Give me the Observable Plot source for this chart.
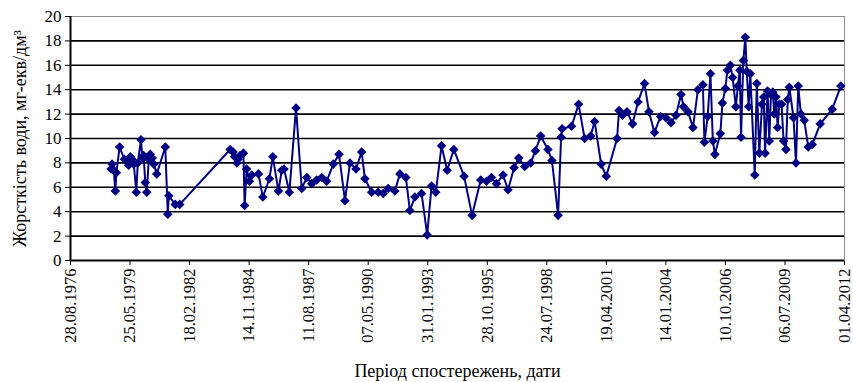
<!DOCTYPE html>
<html>
<head>
<meta charset="utf-8">
<script src="https://cdn.jsdelivr.net/npm/d3@7"></script>
<script src="https://cdn.jsdelivr.net/npm/@observablehq/plot@0.6"></script>
<style>
  html, body { margin: 0; padding: 0; background: #fff; }
  #chart [aria-label="x-axis label"], #chart [aria-label="y-axis label"] { font-size: 18px; }
  #chart [aria-label="x-axis tick label"] { font-size: 16.5px; }
</style>
</head>
<body>
<div id="chart"></div>
<script>
// Sampling dates (dd.mm.yyyy) and measured water hardness, mg-eq/dm³
const sampleDates = [
  "10.07.1978","27.07.1978","26.08.1978","20.09.1978","07.10.1978","01.12.1978",
  "18.02.1979","04.04.1979","01.05.1979","30.05.1979","27.06.1979","27.07.1979",
  "07.09.1979","02.10.1979","25.11.1979","17.12.1979",
  "08.01.1980","05.02.1980","01.03.1980","04.04.1980","29.04.1980","01.06.1980",
  "27.06.1980","16.08.1980",
  "06.01.1981","17.02.1981","06.03.1981","23.06.1981","06.09.1981",
  "01.01.1984","19.02.1984","16.03.1984","22.04.1984","13.05.1984","16.06.1984",
  "10.08.1984","31.08.1984","03.10.1984","19.11.1984","30.12.1984",
  "20.04.1985","02.07.1985","21.10.1985","17.12.1985",
  "21.03.1986","17.05.1986","24.06.1986","21.09.1986",
  "11.01.1987","17.04.1987","10.07.1987","01.10.1987","24.12.1987",
  "18.03.1988","09.06.1988","28.09.1988",
  "02.01.1989","12.04.1989","05.07.1989","14.10.1989",
  "17.01.1990","13.03.1990","04.07.1990","22.10.1990",
  "14.01.1991","08.04.1991","29.07.1991","21.10.1991",
  "30.01.1992","06.04.1992","29.06.1992","19.10.1992",
  "22.01.1993","05.04.1993","16.06.1993","20.09.1993","23.12.1993",
  "14.04.1994","04.10.1994",
  "15.02.1995","10.07.1995","14.10.1995",
  "06.01.1996","31.03.1996","19.07.1996","11.10.1996",
  "20.01.1997","09.04.1997","18.07.1997","27.10.1997",
  "14.01.1998","12.04.1998","12.08.1998","18.10.1998",
  "30.01.1999","21.03.1999","07.04.1999","13.09.1999",
  "09.01.2000","19.04.2000","29.07.2000","04.10.2000",
  "21.01.2001","18.04.2001","16.10.2001","18.11.2001",
  "16.01.2002","01.04.2002","03.07.2002","03.10.2002",
  "20.01.2003","05.04.2003","06.07.2003","15.10.2003",
  "15.01.2004","09.04.2004","02.07.2004","24.09.2004","05.11.2004",
  "19.01.2005","13.04.2005","05.07.2005","27.09.2005","22.10.2005","16.12.2005",
  "31.01.2006","13.03.2006","16.04.2006","17.07.2006","20.08.2006","09.10.2006",
  "12.11.2006",
  "01.01.2007","08.02.2007","03.04.2007","07.05.2007","09.06.2007","29.06.2007",
  "07.08.2007","09.09.2007","04.10.2007","04.11.2007","02.12.2007",
  "15.02.2008","20.03.2008","01.05.2008","15.06.2008","15.07.2008","06.08.2008",
  "17.09.2008","15.10.2008","13.11.2008","13.12.2008",
  "08.01.2009","05.02.2009","05.03.2009","02.04.2009","10.05.2009","13.06.2009",
  "23.07.2009","22.08.2009","17.09.2009","27.11.2009",
  "07.01.2010","14.02.2010","31.03.2010","26.05.2010","01.08.2010","07.10.2010",
  "18.02.2011","07.09.2011",
  "31.01.2012"
];

const hardness = [
  7.5, 7.9, 7.4, 5.7, 7.2, 9.3,
  8.3, 8.2, 7.8, 8.5, 8.3, 7.9,
  5.6, 8.0, 9.9, 8.4,
  8.6, 6.4, 5.6, 8.3, 8.7, 8.4,
  7.9, 7.1,
  9.3, 3.8, 5.3, 4.6, 4.6,
  9.1, 8.9, 8.5, 8.0, 8.3, 8.6,
  8.8, 4.5, 7.5, 6.5, 7.0,
  7.1, 5.2, 6.7, 8.5,
  5.7, 7.4, 7.5, 5.6,
  12.5, 5.9, 6.8, 6.3, 6.6,
  6.8, 6.5, 7.9,
  8.7, 4.9, 8.0, 7.5,
  8.9, 6.7, 5.6, 5.6,
  5.5, 5.9, 5.7, 7.1,
  6.8, 4.1, 5.2, 5.5,
  2.1, 6.1, 5.6, 9.4, 7.4,
  9.1, 6.9,
  3.7, 6.6, 6.5,
  6.8, 6.3, 7.0, 5.8,
  7.6, 8.4, 7.7, 8.0,
  9.0, 10.2, 9.1, 8.2,
  3.7, 10.1, 10.8, 11.0,
  12.8, 10.0, 10.2, 11.4,
  7.9, 6.9, 10.0, 12.3,
  11.9, 12.2, 11.2, 13.0,
  14.5, 12.2, 10.5, 11.8,
  11.7, 11.3, 11.9, 13.6, 12.6,
  12.2, 10.9, 14.0, 14.4, 9.7, 11.8,
  15.3, 9.8, 8.7, 10.4, 12.9, 14.1,
  15.6,
  16.0, 15.0, 12.6, 14.3, 15.6, 10.1,
  16.4, 18.3, 15.5, 12.6, 15.3,
  7.0, 14.5, 8.8, 12.8, 13.4, 8.8,
  13.9, 9.8, 13.6, 13.8,
  12.0, 13.4, 10.9, 12.8, 12.8, 9.8,
  9.1, 13.2, 14.2, 11.7,
  8.0, 14.3, 12.0, 11.5, 9.3, 9.5,
  11.2, 12.4,
  14.3
];

// Axis ticks: dates every 1000 days, hardness every 2 units
const xTickLabels = [
  "28.08.1976","25.05.1979","18.02.1982","14.11.1984","11.08.1987",
  "07.05.1990","31.01.1993","28.10.1995","24.07.1998","19.04.2001",
  "14.01.2004","10.10.2006","06.07.2009","01.04.2012"
];
const yTicks = [0, 2, 4, 6, 8, 10, 12, 14, 16, 18, 20];

const parseDate = d3.utcParse("%d.%m.%Y");
const formatDate = d3.utcFormat("%d.%m.%Y");

const records = sampleDates.map((d, i) => ({date: parseDate(d), value: hardness[i]}));
const xTicks = xTickLabels.map(parseDate);

const navy = "#000080";

const chart = Plot.plot({
  width: 853,
  height: 382,
  marginLeft: 70,
  marginRight: 9,
  marginTop: 16,
  marginBottom: 122,
  style: {
    fontFamily: "'Liberation Serif', 'Times New Roman', serif",
    fontSize: "17px",
    color: "#000",
    background: "#fff"
  },
  x: {
    type: "utc",
    domain: [xTicks[0], xTicks[xTicks.length - 1]],
    ticks: xTicks,
    tickFormat: formatDate,
    tickRotate: -90,
    tickSize: 5,
    tickPadding: 3,
    label: "Період спостережень, дати",
    labelAnchor: "center",
    labelArrow: "none",
    labelOffset: 116
  },
  y: {
    domain: [0, 20],
    ticks: yTicks,
    tickSize: 5,
    tickPadding: 4,
    label: "Жорсткість води, мг-екв/дм³",
    labelAnchor: "center",
    labelArrow: "none",
    labelOffset: 57
  },
  marks: [
    Plot.frame({stroke: "#8c8c8c"}),
    Plot.ruleY(yTicks.slice(1, -1), {stroke: "#000", strokeWidth: 1.6}),
    Plot.ruleY([0], {stroke: "#000", strokeWidth: 2}),
    Plot.ruleX([xTicks[0]], {stroke: "#000", strokeWidth: 2}),
    Plot.line(records, {x: "date", y: "value", stroke: navy, strokeWidth: 2}),
    Plot.dot(records, {x: "date", y: "value", symbol: "diamond2", r: 4.3, fill: navy, stroke: "none"})
  ]
});

document.getElementById("chart").appendChild(chart);
</script>
</body>
</html>
